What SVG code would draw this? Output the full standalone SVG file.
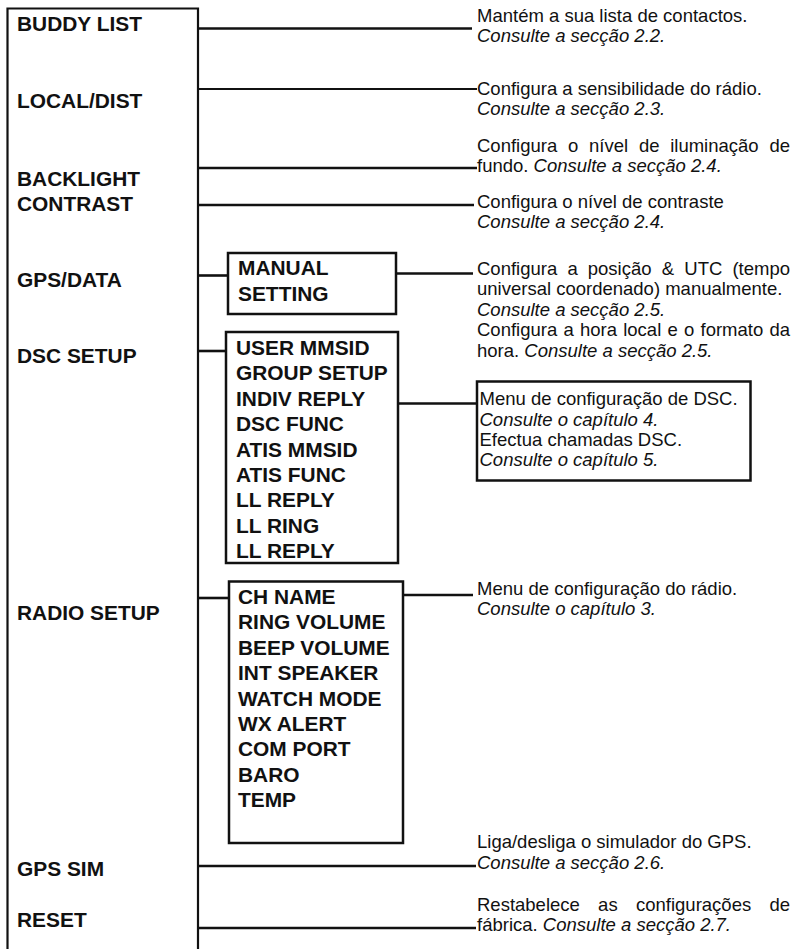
<svg xmlns="http://www.w3.org/2000/svg" width="794" height="949" viewBox="0 0 794 949">
  <style>
    .bg { fill: #ffffff; }
    .frame { fill: none; stroke: #111; stroke-width: 2.2; }
    .box { fill: #ffffff; stroke: #111; stroke-width: 2.5; }
    .wire { fill: none; stroke: #111; stroke-width: 2.6; }
    .wire-thin { fill: none; stroke: #111; stroke-width: 2; }
    .lbl { font-family: "Liberation Sans", Arial, sans-serif; font-weight: bold; font-size: 20.9px; fill: #111; }
    .desc { font-family: "Liberation Sans", Arial, sans-serif; font-size: 18.5px; fill: #111; }
    .it { font-style: italic; }
  </style>

  <rect class="bg" x="0" y="0" width="794" height="949"/>

  <!-- main menu column (open at the bottom) -->
  <g id="main-menu">
    <path class="frame" d="M7.5,949 V8.5 H198 V949"/>
    <text class="lbl" x="17" y="31">BUDDY LIST</text>
    <text class="lbl" x="17" y="108">LOCAL/DIST</text>
    <text class="lbl" x="17" y="186">BACKLIGHT</text>
    <text class="lbl" x="17" y="211">CONTRAST</text>
    <text class="lbl" x="17" y="287">GPS/DATA</text>
    <text class="lbl" x="17" y="363">DSC SETUP</text>
    <text class="lbl" x="17" y="620">RADIO SETUP</text>
    <text class="lbl" x="17" y="876">GPS SIM</text>
    <text class="lbl" x="17" y="927">RESET</text>
  </g>

  <!-- connectors -->
  <g id="connectors">
    <line class="wire" x1="198" y1="28.5" x2="472" y2="28.5"/>
    <line class="wire-thin" x1="198" y1="89" x2="477" y2="89"/>
    <line class="wire" x1="198" y1="168" x2="477" y2="168"/>
    <line class="wire" x1="198" y1="205" x2="474" y2="205"/>
    <line class="wire" x1="198" y1="275.5" x2="228" y2="275.5"/>
    <line class="wire" x1="396" y1="273.5" x2="473" y2="273.5"/>
    <line class="wire" x1="198" y1="351" x2="226" y2="351"/>
    <line class="wire" x1="398" y1="403.5" x2="477" y2="403.5"/>
    <line class="wire" x1="198" y1="598" x2="229" y2="598"/>
    <line class="wire" x1="403" y1="595" x2="473" y2="595"/>
    <line class="wire" x1="198" y1="866" x2="476" y2="866"/>
    <line class="wire" x1="198" y1="928" x2="476" y2="928"/>
  </g>

  <!-- GPS/DATA submenu -->
  <g id="manual-setting">
    <rect class="box" x="228" y="253" width="168" height="61"/>
    <text class="lbl" x="238" y="275">MANUAL</text>
    <text class="lbl" x="238" y="300.5">SETTING</text>
  </g>

  <!-- DSC SETUP submenu -->
  <g id="dsc-setup">
    <rect class="box" x="226" y="332" width="172" height="231"/>
    <text class="lbl" x="236" y="355">USER MMSID</text>
    <text class="lbl" x="236" y="380.4">GROUP SETUP</text>
    <text class="lbl" x="236" y="405.8">INDIV REPLY</text>
    <text class="lbl" x="236" y="431.2">DSC FUNC</text>
    <text class="lbl" x="236" y="456.6">ATIS MMSID</text>
    <text class="lbl" x="236" y="482">ATIS FUNC</text>
    <text class="lbl" x="236" y="507.4">LL REPLY</text>
    <text class="lbl" x="236" y="532.8">LL RING</text>
    <text class="lbl" x="236" y="558.2">LL REPLY</text>
  </g>

  <!-- RADIO SETUP submenu -->
  <g id="radio-setup">
    <rect class="box" x="229" y="581.5" width="174" height="261.5"/>
    <text class="lbl" x="238" y="604">CH NAME</text>
    <text class="lbl" x="238" y="629.4">RING VOLUME</text>
    <text class="lbl" x="238" y="654.8">BEEP VOLUME</text>
    <text class="lbl" x="238" y="680.2">INT SPEAKER</text>
    <text class="lbl" x="238" y="705.6">WATCH MODE</text>
    <text class="lbl" x="238" y="731">WX ALERT</text>
    <text class="lbl" x="238" y="756.4">COM PORT</text>
    <text class="lbl" x="238" y="781.8">BARO</text>
    <text class="lbl" x="238" y="807.2">TEMP</text>
  </g>

  <!-- descriptions -->
  <g id="desc-buddy">
    <text class="desc" x="477" y="21.5">Mantém a sua lista de contactos.</text>
    <text class="desc it" x="477" y="41.5">Consulte a secção 2.2.</text>
  </g>

  <g id="desc-local">
    <text class="desc" x="477" y="94.5">Configura a sensibilidade do rádio.</text>
    <text class="desc it" x="477" y="114.5">Consulte a secção 2.3.</text>
  </g>

  <g id="desc-backlight">
    <text class="desc" y="151.5"><tspan x="477">Configura</tspan><tspan x="568">o</tspan><tspan x="589">nível</tspan><tspan x="638.9">de</tspan><tspan x="670.2">iluminação</tspan><tspan x="769.4">de</tspan></text>
    <text class="desc" x="477" y="172">fundo. <tspan class="it">Consulte a secção 2.4.</tspan></text>
  </g>

  <g id="desc-contrast">
    <text class="desc" x="477" y="207.5">Configura o nível de contraste</text>
    <text class="desc it" x="477" y="227.5">Consulte a secção 2.4.</text>
  </g>

  <g id="desc-gps">
    <text class="desc" y="274.5"><tspan x="477">Configura</tspan><tspan x="567.4">a</tspan><tspan x="587.8">posição</tspan><tspan x="661.7">&amp;</tspan><tspan x="684.3">UTC</tspan><tspan x="732.4">(tempo</tspan></text>
    <text class="desc" x="477" y="295">universal coordenado) manualmente.</text>
    <text class="desc it" x="477" y="315.5">Consulte a secção 2.5.</text>
    <text class="desc" y="336"><tspan x="477">Configura</tspan><tspan x="563.4">a</tspan><tspan x="580">hora</tspan><tspan x="623.2">local</tspan><tspan x="667.5">e</tspan><tspan x="684">o</tspan><tspan x="700.5">formato</tspan><tspan x="769.5">da</tspan></text>
    <text class="desc" x="477" y="356.5">hora. <tspan class="it">Consulte a secção 2.5.</tspan></text>
  </g>

  <g id="desc-dsc">
    <rect class="box" x="477" y="381.5" width="273.5" height="99"/>
    <text class="desc" x="479.5" y="405">Menu de configuração de DSC.</text>
    <text class="desc it" x="479.5" y="425.5">Consulte o capítulo 4.</text>
    <text class="desc" x="479.5" y="446">Efectua chamadas DSC.</text>
    <text class="desc it" x="479.5" y="466">Consulte o capítulo 5.</text>
  </g>

  <g id="desc-radio">
    <text class="desc" x="477" y="594.5">Menu de configuração do rádio.</text>
    <text class="desc it" x="477" y="614.5">Consulte o capítulo 3.</text>
  </g>

  <g id="desc-gpssim">
    <text class="desc" x="477" y="848">Liga/desliga o simulador do GPS.</text>
    <text class="desc it" x="477" y="868.5">Consulte a secção 2.6.</text>
  </g>

  <g id="desc-reset">
    <text class="desc" y="911"><tspan x="477">Restabelece</tspan><tspan x="598.1">as</tspan><tspan x="636">configurações</tspan><tspan x="769.4">de</tspan></text>
    <text class="desc" x="477" y="931">fábrica. <tspan class="it">Consulte a secção 2.7.</tspan></text>
  </g>
</svg>
